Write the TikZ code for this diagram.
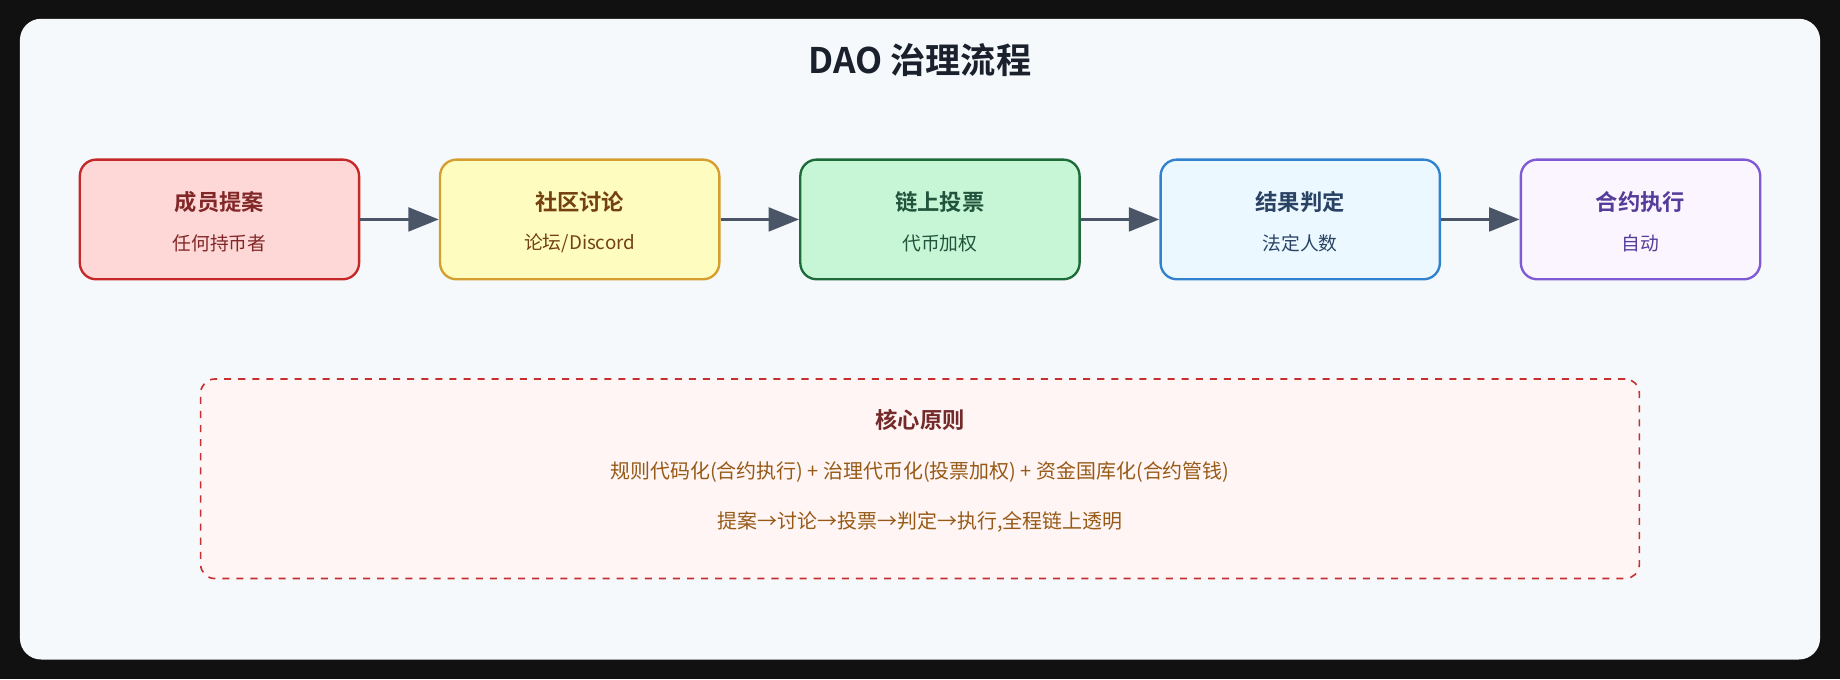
\documentclass[tikz,border=0pt]{standalone}
\usepackage{fontspec}
\setmainfont{Noto Sans CJK SC}[BoldFont={Noto Sans CJK SC Bold}]
\usetikzlibrary{arrows.meta}
\definecolor{bgc}{HTML}{F5F9FC}
\definecolor{arr}{HTML}{4A5568}
\tikzset{
 step/.style args={#1/#2/#3}{draw=#2,fill=#1,text=#3,line width=1pt,rounded corners=7pt,minimum height=51pt,inner sep=0pt,align=center},
 conn/.style={draw=arr,line width=1.6pt,-{Triangle[length=13pt,width=10pt]}},
 ttl/.style={font=\bfseries\fontsize{9.5}{11}\selectfont},
 sub/.style={font=\fontsize{8}{10}\selectfont}
}
\begin{document}
\begin{tikzpicture}[x=0.5pt,y=-0.5pt]
\fill[fill={rgb,255:red,17;green,17;blue,17}] (0,0) rectangle (1568,579);
\useasboundingbox (0,0) rectangle (1568,579);
\fill[bgc,rounded corners=9pt] (17,16) rectangle (1551,562);
\node[font=\bfseries\fontsize{15}{18}\selectfont,text={rgb,255:red,26;green,32;blue,44}] (title) at (784,51) {DAO 治理流程};
\def\mk#1#2#3#4#5#6#7#8{%
 \node[step={#4/#5/#6},minimum width=#3*0.5pt] (#1) at (#2,187) {};
 \node[ttl,text=#6] (#1t) at (#2,172) {#7};
 \node[sub,text=#6] (#1s) at (#2,207) {#8};}
\definecolor{f1}{HTML}{FED7D7}\definecolor{b1}{HTML}{C62828}\definecolor{t1}{HTML}{822727}
\definecolor{f2}{HTML}{FEFCBF}\definecolor{b2}{HTML}{D69E2E}\definecolor{t2}{HTML}{744210}
\definecolor{f3}{HTML}{C6F6D5}\definecolor{b3}{HTML}{1E6B3A}\definecolor{t3}{HTML}{22543D}
\definecolor{f4}{HTML}{EBF8FF}\definecolor{b4}{HTML}{3182CE}\definecolor{t4}{HTML}{2A4365}
\definecolor{f5}{HTML}{FAF5FF}\definecolor{b5}{HTML}{805AD5}\definecolor{t5}{HTML}{553C9A}
\mk{a}{187}{238}{f1}{b1}{t1}{成员提案}{任何持币者}
\mk{b}{494}{238}{f2}{b2}{t2}{社区讨论}{论坛/Discord}
\mk{c}{801}{238}{f3}{b3}{t3}{链上投票}{代币加权}
\mk{d}{1108}{238}{f4}{b4}{t4}{结果判定}{法定人数}
\mk{e}{1398}{204}{f5}{b5}{t5}{合约执行}{自动}
\draw[conn] (a.east) -- (b.west);
\draw[conn] (b.east) -- (c.west);
\draw[conn] (c.east) -- (d.west);
\draw[conn] (d.east) -- (e.west);
\definecolor{cf}{HTML}{FFF5F5}\definecolor{cb}{HTML}{C53030}\definecolor{ct}{HTML}{975A16}
\node[draw=cb,fill=cf,dashed,line width=0.7pt,rounded corners=6pt,minimum width=613pt,minimum height=85pt] (core) at (784,408) {};
\node[ttl,text={rgb,255:red,116;green,42;blue,42}] (coret) at (784,358) {核心原则};
\node[font=\fontsize{8.5}{10}\selectfont,text=ct] (l1) at (784,402) {规则代码化(合约执行) + 治理代币化(投票加权) + 资金国库化(合约管钱)};
\node[font=\fontsize{8.5}{10}\selectfont,text=ct] (l2) at (784,445) {提案→讨论→投票→判定→执行,全程链上透明};
\end{tikzpicture}
\end{document}
